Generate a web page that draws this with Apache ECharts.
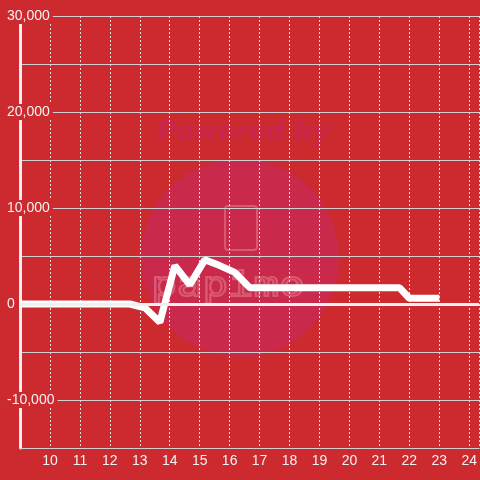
<!DOCTYPE html>
<html>
<head>
<meta charset="utf-8">
<script src="https://cdn.jsdelivr.net/npm/echarts@6/dist/echarts.min.js"></script>
<style>
  html, body { margin: 0; padding: 0; background: #cd2a2f; }
  #chart { width: 480px; height: 480px; }
</style>
</head>
<body>
<div id="chart"></div>
<script>
// hour of day vs. coin difference
const hours = [9, 12.67, 13.17, 13.67, 14.17, 14.67, 15.17, 15.67, 16.17, 16.67, 21.67, 22.0, 23.0]
const diff = [0, 0, -400, -1900, 4000, 2000, 4600, 4000, 3300, 1700, 1700, 600, 600]

const chart = echarts.init(document.getElementById('chart'))
const data = hours.map((h, i) => [h, diff[i]])

const option = {
  animation: false,
  backgroundColor: '#cd2a2f',
  grid: { left: 20, right: 0, top: 16, bottom: 32 },
  graphic: [
    {
      type: 'circle', z: -10, silent: true,
      shape: { cx: 240, cy: 258, r: 99 },
      style: { fill: '#c9294a' }
    },
    {
      type: 'text', z: -10, silent: true,
      x: 243, y: 133,
      style: {
        text: 'Powered by', fill: '#c8264a',
        font: 'italic bold 26px "DejaVu Sans", sans-serif',
        align: 'center', verticalAlign: 'middle'
      }
    },
    {
      type: 'rect', z: -9, silent: true,
      shape: { x: 225, y: 206, width: 32, height: 44, r: 3 },
      style: { fill: 'none', stroke: '#d85a72', lineWidth: 2 }
    },
    {
      type: 'text', z: -9, silent: true,
      x: 228, y: 287, scaleX: 1.25,
      style: {
        text: 'papimo', fill: 'none', stroke: '#d85a72', lineWidth: 2,
        font: '34px "DejaVu Sans Mono", monospace',
        align: 'center', verticalAlign: 'middle'
      }
    }
  ],
  xAxis: {
    type: 'value',
    min: 9,
    max: 9 + 460 / 30,
    interval: 1,
    axisLine: { show: true, onZero: false, lineStyle: { color: '#d0d0d0', width: 1 } },
    axisTick: { show: false },
    axisLabel: {
      color: '#f2f2f2', fontSize: 14, fontFamily: 'Liberation Sans', margin: 6,
      showMinLabel: false, showMaxLabel: false
    },
    splitLine: { show: true, lineStyle: { color: '#e0e0e0', type: [2, 2], width: 1 } }
  },
  yAxis: {
    type: 'value',
    min: -15000,
    max: 30000,
    interval: 5000,
    axisLine: { show: true, lineStyle: { color: '#f0f0f0', width: 3 } },
    axisTick: { show: false },
    axisLabel: {
      color: '#f2f2f2', fontSize: 14, fontFamily: 'Liberation Sans',
      align: 'left', margin: 14,
      backgroundColor: '#cd2a2f', padding: [1, 3, 1, 1],
      formatter: (v) => (v % 10000 === 0 ? v.toLocaleString('en-US') : '')
    },
    splitLine: { show: true, lineStyle: { color: '#d0d0d0', width: 1 } }
  },
  series: [
    {
      type: 'line',
      symbol: 'none',
      lineStyle: { color: '#ffffff', width: 7 },
      data,
      markLine: {
        silent: true,
        symbol: 'none',
        label: { show: false },
        lineStyle: { color: '#f0f0f0', width: 3, type: 'solid' },
        data: [{ yAxis: 0 }]
      }
    }
  ]
}

chart.setOption(option)
</script>
</body>
</html>
